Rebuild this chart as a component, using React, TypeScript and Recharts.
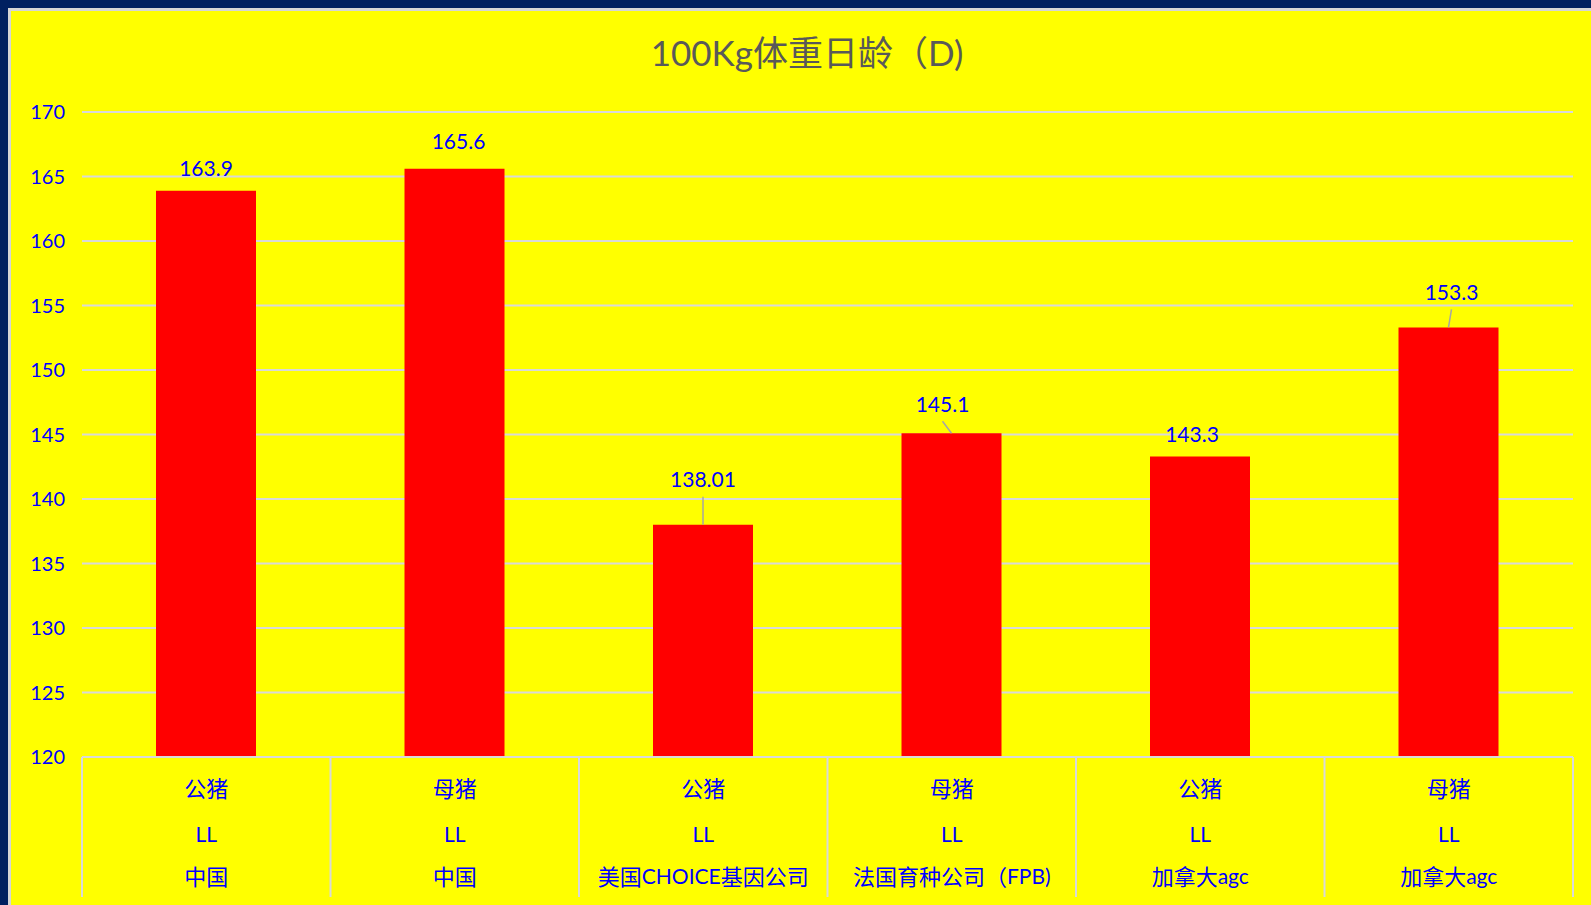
import React from 'react';
import { BarChart, Bar, XAxis, YAxis, CartesianGrid, LabelList } from 'recharts';

const CHART_W = 1591;
const CHART_H = 905;

const SEXES = ['公猪', '母猪', '公猪', '母猪', '公猪', '母猪'];
const BREEDS = ['LL', 'LL', 'LL', 'LL', 'LL', 'LL'];
const ORIGINS = ['中国', '中国', '美国CHOICE基因公司', '法国育种公司（FPB)', '加拿大agc', '加拿大agc'];
const DAYS = [163.9, 165.6, 138.01, 145.1, 143.3, 153.3];
const Y_TICKS = [120, 125, 130, 135, 140, 145, 150, 155, 160, 165, 170];

// hand-placed label offsets (relative to bar top centre), like the dragged labels in the source
const LABEL_SHIFT = [
  { dx: 0, dy: -23, leader: false },
  { dx: 4, dy: -28, leader: false },
  { dx: 0, dy: -46, leader: true },
  { dx: -9, dy: -30, leader: true },
  { dx: -8, dy: -23, leader: false },
  { dx: 3, dy: -36, leader: true },
];

const BLUE = '#0000FF';
const GRID = '#D9D9D9';
const LATIN = 'Lato, "Noto Sans CJK SC", sans-serif';
const CJK = '"Noto Sans CJK SC", Lato, sans-serif';

const data = DAYS.map((v, i) => ({ key: i, value: v }));

function segments(text: string) {
  return text.match(/[\u3000-\u9fff\uff00-\uffef]+|[^\u3000-\u9fff\uff00-\uffef]+/g) ?? [];
}

function MixedText({ x, y, text, size }: { x: number; y: number; text: string; size: number }) {
  return (
    <text x={x} y={y} textAnchor="middle" dominantBaseline="central" fill={BLUE}>
      {segments(text).map((s, i) => {
        const cjk = /[\u3000-\u9fff\uff00-\uffef]/.test(s);
        return (
          <tspan key={i} fontFamily={cjk ? CJK : LATIN} fontSize={cjk ? size + 1 : size}>
            {s}
          </tspan>
        );
      })}
    </text>
  );
}

function CategoryTick(props: any) {
  const { x, y, payload, width } = props;
  const i = Number(payload?.value ?? props.index);
  const half = (width ?? 1491) / DAYS.length / 2;
  const bottom = y + 140;
  return (
    <g>
      <line x1={x - half} x2={x - half} y1={y} y2={bottom} stroke={GRID} strokeWidth={2} />
      {i === DAYS.length - 1 && (
        <line x1={x + half} x2={x + half} y1={y} y2={bottom} stroke={GRID} strokeWidth={2} />
      )}
      <MixedText x={x} y={y + 30} text={SEXES[i]} size={21} />
      <MixedText x={x} y={y + 76} text={BREEDS[i]} size={21} />
      <MixedText x={x} y={y + 118} text={ORIGINS[i]} size={21} />
    </g>
  );
}

function ValueLabel(props: any) {
  const { x, y, width, value, index } = props;
  const i = typeof index === 'number' ? index : DAYS.indexOf(value);
  const shift = LABEL_SHIFT[i] ?? { dx: 0, dy: -23, leader: false };
  const cx = Number(x) + Number(width) / 2;
  const top = Number(y);
  const lx = cx + shift.dx;
  const ly = top + shift.dy;
  return (
    <g>
      {shift.leader && (
        <line x1={lx} y1={ly + 18} x2={cx} y2={top} stroke="#A6A6A6" strokeWidth={1.5} />
      )}
      <text
        x={lx}
        y={ly}
        textAnchor="middle"
        dominantBaseline="central"
        fill={BLUE}
        fontSize={21}
        fontFamily={LATIN}
      >
        {value}
      </text>
    </g>
  );
}

export default function App() {
  return (
    <div
      style={{
        position: 'fixed',
        left: 0,
        top: 0,
        width: CHART_W,
        height: CHART_H,
        overflow: 'hidden',
        background: '#002060',
      }}
    >
      <div
        style={{
          position: 'absolute',
          left: 8,
          top: 8,
          width: 1620,
          height: 940,
          background: '#FFFF00',
          border: '3px solid #D6D6D6',
        }}
      />
      <div
        style={{
          position: 'absolute',
          left: 0,
          top: 32,
          width: 1614,
          height: 40,
          lineHeight: '40px',
          textAlign: 'center',
          fontSize: 35,
          color: '#595959',
          fontFamily: LATIN,
        }}
      >
        100Kg体重日龄（D)
      </div>
      <div style={{ position: 'absolute', left: 0, top: 0 }}>
        <BarChart
          width={CHART_W}
          height={CHART_H}
          data={data}
          margin={{ top: 112, right: 18, bottom: 0, left: 22 }}
          barSize={100}
        >
          <CartesianGrid vertical={false} stroke={GRID} strokeWidth={2} />
          <XAxis
            dataKey="key"
            type="category"
            height={148}
            axisLine={{ stroke: GRID, strokeWidth: 2 }}
            tickLine={false}
            tickSize={0}
            tickMargin={0}
            interval={0}
            tick={<CategoryTick />}
          />
          <YAxis
            domain={[120, 170]}
            ticks={Y_TICKS}
            allowDataOverflow
            width={60}
            axisLine={false}
            tickLine={false}
            tickSize={6}
            tickMargin={11}
            tick={{ fill: BLUE, fontSize: 20, fontFamily: LATIN }}
          />
          <Bar dataKey="value" fill="#FF0000" isAnimationActive={false}>
            <LabelList dataKey="value" content={<ValueLabel />} />
          </Bar>
        </BarChart>
      </div>
    </div>
  );
}
